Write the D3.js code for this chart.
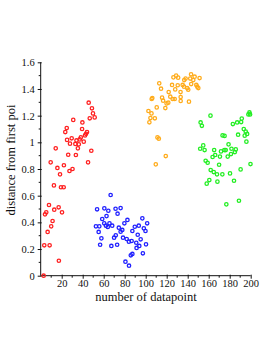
<!DOCTYPE html>
<html>
<head>
<meta charset="utf-8">
<script src="https://cdn.jsdelivr.net/npm/d3@7"></script>
<style>
  body { margin: 0; background: #fff; }
  text { font-family: "Liberation Serif", "DejaVu Serif", serif; }
</style>
</head>
<body>
<svg id="chart" width="277" height="358"></svg>
<script>
// values
var redX = [2.8, 12.6, 19.3, 21.9, 7.9, 17.1, 12.9, 20.3, 5.3, 4.1, 11.3, 10, 6.6, 3.4, 8.5, 17.3,
    9.5, 14.3, 15.9, 18.4, 22.1, 27.4, 30.3, 26.2, 23.4, 24.8, 25.1, 27.9, 29.5, 31, 33, 33.5, 34.1,
    35.4, 36.3, 37.2, 38.2, 39.7, 39.4, 41, 42.2, 43.2, 44.1, 45.1, 45.7, 46.7, 48.2, 48.8, 49.8, 51.4];
var redY = [0, 0.677, 0.663, 0.663, 0.53, 0.513, 0.495, 0.475, 0.475, 0.46, 0.41, 0.37, 0.328, 0.228, 0.228, 0.112,
    0.85, 0.955, 0.808, 0.76, 0.828, 0.785, 0.80, 0.907, 1.077, 1.107, 1.018, 0.99, 1.03, 1.168, 0.988, 0.905, 1.014,
    0.955, 0.985, 1.022, 1.037, 1.149, 1.1, 1.005, 1.052, 1.064, 1.077, 0.85, 1.297, 1.18, 0.937, 1.255, 1.217, 1.187];

var blueX = [66.6, 53.7, 60.6, 64.4, 71.3, 76.1, 73.2, 62.7, 58.6, 82.6, 96.8, 60.5, 65.5, 79.7, 101.4, 52.6, 55.8,
    62.1, 63.9, 68.1, 74.4, 89.6, 93.4, 98.2, 99.8, 77.7, 76.1, 87.3, 55.2, 92.4, 71.5, 57.8, 69.9, 78.4, 81.9,
    95.2, 84, 86.6, 91, 56.6, 67.3, 72.8, 100.3, 93.9, 91.3, 97.3, 87.3, 85.8, 80.7, 84.1];
var blueY = [0.605, 0.498, 0.505, 0.487, 0.502, 0.507, 0.465, 0.447, 0.425, 0.418, 0.43, 0.393, 0.393, 0.393, 0.393, 0.37, 0.37,
    0.375, 0.365, 0.375, 0.36, 0.367, 0.375, 0.355, 0.335, 0.343, 0.33, 0.335, 0.328, 0.307, 0.303, 0.28, 0.285, 0.285, 0.275,
    0.273, 0.255, 0.26, 0.247, 0.232, 0.223, 0.232, 0.235, 0.223, 0.208, 0.168, 0.163, 0.153, 0.105, 0.075];

var orangeX = [143.2, 126.4, 129, 130.9, 138, 136.7, 142.4, 145.3, 146.6, 151.3, 112.9, 125.1, 130.5, 135.2, 136.5,
    143.3, 148.2, 149.1, 114.6, 128.1, 139.5, 140.5, 150.1, 121.9, 133.2, 106.3, 105.7, 115.6, 116.6, 119.9, 121.5,
    123.4, 125.7, 127.6, 133.3, 133.3, 141.2, 110.5, 118.7, 102.6, 105.5, 104.5, 108.7, 103.5, 111.2, 112.5, 119.1, 109.6];
var orangeY = [1.51, 1.487, 1.5, 1.485, 1.478, 1.467, 1.478, 1.467, 1.492, 1.482, 1.442, 1.43, 1.428, 1.43, 1.417,
    1.437, 1.43, 1.417, 1.402, 1.397, 1.407, 1.395, 1.407, 1.377, 1.377, 1.332, 1.325, 1.335, 1.312, 1.292, 1.297,
    1.342, 1.325, 1.325, 1.34, 1.31, 1.305, 1.262, 1.257, 1.235, 1.217, 1.182, 1.18, 1.15, 1.037, 1.027, 0.897, 0.835];

var greenX = [161.7, 198.8, 197.8, 199.4, 152.3, 153.5, 191.5, 190.9, 187.1, 183, 193.4, 195.3, 196.6, 194.3, 188,
    173.2, 175.1, 195.9, 178.9, 154.8, 151.9, 156.1, 165.2, 171.7, 174.9, 176.2, 181.7, 185.8, 184.9, 181.2, 178.1,
    166.2, 163.7, 170.7, 157.1, 159, 169.9, 199.8, 161.9, 164.8, 190.4, 167.9, 173, 180.3, 160.6, 158.1, 168.3, 184.1,
    188.8, 176.8];
var greenY = [1.2, 1.224, 1.209, 1.209, 1.149, 1.124, 1.178, 1.152, 1.149, 1.137, 1.099, 1.08, 1.063, 1.05, 1.057,
    1.052, 1.048, 1.005, 0.985, 0.977, 0.952, 0.942, 0.942, 0.932, 0.942, 0.942, 0.952, 0.947, 0.927, 0.912, 0.893,
    0.905, 0.89, 0.893, 0.862, 0.847, 0.832, 0.837, 0.792, 0.777, 0.797, 0.76, 0.76, 0.767, 0.717, 0.69, 0.705, 0.712,
    0.562, 0.535];

var series = [
    { xs: redX, ys: redY, color: "#ff2020" },
    { xs: blueX, ys: blueY, color: "#2020ff" },
    { xs: orangeX, ys: orangeY, color: "#ffac1c" },
    { xs: greenX, ys: greenY, color: "#22ee22" }
];

var xMajor = [20, 40, 60, 80, 100, 120, 140, 160, 180, 200];
var yMajor = [0, 0.2, 0.4, 0.6, 0.8, 1, 1.2, 1.4, 1.6];

var svg = d3.select("#chart");

var x = d3.scaleLinear().domain([0, 200]).range([40.7, 250.7]);
var y = d3.scaleLinear().domain([0, 1.6]).range([275.7, 62.3]);

var axisColor = "#111";

// x axis: minor ticks every 10, labels every 20
var xMinor = d3.range(10, 201, 10).filter(function (v) { return xMajor.indexOf(v) < 0; });
var gx = svg.append("g").attr("transform", "translate(0," + y(0) + ")");
gx.call(d3.axisBottom(x).tickValues(xMajor).tickSize(3).tickSizeOuter(0).tickFormat(d3.format("d")));
gx.append("g").selectAll("line")
    .data(xMinor)
    .enter().append("line")
    .attr("x1", function (d) { return x(d); })
    .attr("x2", function (d) { return x(d); })
    .attr("y1", 0).attr("y2", 2)
    .attr("stroke", axisColor);
gx.select(".domain").attr("stroke", axisColor).attr("d", "M" + x(0) + ",0H" + x(200));
gx.selectAll(".tick line").attr("stroke", axisColor).attr("y1", -1);
gx.selectAll(".tick text")
    .attr("fill", "#111")
    .attr("font-size", "10.5px")
    .attr("font-family", "Liberation Serif")
    .attr("dy", "0.55em");

// y axis: minor ticks every 0.1
var yMinor = [0.1, 0.3, 0.5, 0.7, 0.9, 1.1, 1.3, 1.5];
var gy = svg.append("g").attr("transform", "translate(" + x(0) + ",0)");
gy.call(d3.axisLeft(y).tickValues(yMajor).tickSize(3).tickSizeOuter(0)
    .tickFormat(function (d) { return d3.format("")(+d.toFixed(1)); }));
gy.append("g").selectAll("line")
    .data(yMinor)
    .enter().append("line")
    .attr("y1", function (d) { return y(d); })
    .attr("y2", function (d) { return y(d); })
    .attr("x1", 0).attr("x2", -2)
    .attr("stroke", axisColor);
gy.select(".domain").attr("stroke", axisColor).attr("d", "M0," + y(0) + "V" + y(1.6));
gy.selectAll(".tick line").attr("stroke", axisColor).attr("x1", 1);
gy.selectAll(".tick text")
    .attr("fill", "#111")
    .attr("font-size", "10.5px")
    .attr("font-family", "Liberation Serif");

// axis titles
svg.append("text")
    .attr("x", 146)
    .attr("y", 301)
    .attr("text-anchor", "middle")
    .attr("font-size", "12.5px")
    .attr("fill", "#111")
    .text("number of datapoint");

svg.append("text")
    .attr("transform", "translate(15," + 160 + ") rotate(-90)")
    .attr("text-anchor", "middle")
    .attr("font-size", "12.5px")
    .attr("fill", "#111")
    .text("distance from first poi");

// points
series.forEach(function (s) {
    svg.append("g")
        .selectAll("circle")
        .data(s.xs)
        .enter().append("circle")
        .attr("cx", function (d) { return x(d); })
        .attr("cy", function (d, i) { return y(s.ys[i]); })
        .attr("r", 1.7)
        .attr("fill", "none")
        .attr("stroke", s.color)
        .attr("stroke-width", 1.3);
});
</script>
</body>
</html>
